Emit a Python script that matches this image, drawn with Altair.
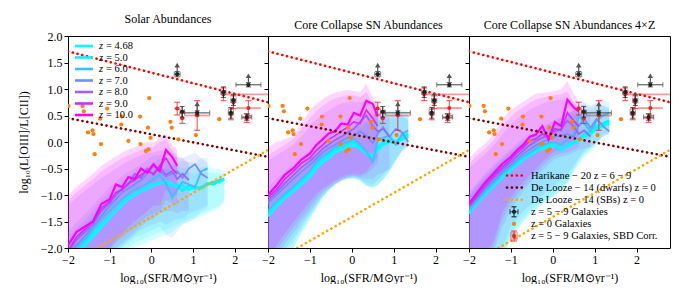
import altair as alt
import pandas as pd

FONT = "Liberation Serif"

# ---------------- data ----------------
X_GRID = [-2.0, -1.8, -1.6, -1.4, -1.2, -1.0, -0.85, -0.7, -0.55, -0.4, -0.25, -0.1,
          0.05, 0.2, 0.35, 0.5, 0.62, 0.75, 0.9, 1.05, 1.2, 1.35, 1.5, 1.62, 1.75]

Z_LABELS = ["4.68", "5.0", "6.0", "7.0", "8.0", "9.0", "10.0"]
Z_COLORS = ["#00ffff", "#10efff", "#40bfff", "#6f90ff", "#9f60ff", "#cf30ff", "#ff00ff"]
Z_WIDTHS = [2.6, 2.6, 2.0, 1.7, 1.7, 1.7, 2.2]

PANEL_TITLES = ["Solar Abundances", "Core Collapse SN Abundances", "Core Collapse SN Abundances 4\u00d7Z"]

# Solar abundances: medians and shaded ranges
solar_med = {
    "10.0": [-1.95, -1.70, -1.60, -1.50, -1.17, -1.08, -0.80, -0.85, -0.66, -0.70, -0.50, -0.58, -0.42, -0.55, -0.15, -0.28, -0.45],
    "9.0": [-2.05, -1.80, -1.65, -1.50, -1.25, -1.12, -0.95, -0.90, -0.78, -0.72, -0.62, -0.55, -0.60, -0.45, -0.30, -0.50, -0.60],
    "8.0": [-2.10, -1.85, -1.70, -1.55, -1.30, -1.15, -1.00, -0.88, -0.80, -0.60, -0.68, -0.50, -0.62, -0.48, -0.62, -0.55, -0.70, -0.60, -0.72],
    "7.0": [-2.15, -1.95, -1.78, -1.60, -1.40, -1.20, -1.08, -0.95, -0.88, -0.80, -0.72, -0.60, -0.45, -0.55, -0.65, -0.60, -0.55, -0.68, -0.50, -0.42, -0.60, -0.68],
    "6.0": [-2.20, -2.00, -1.85, -1.65, -1.45, -1.30, -1.18, -1.08, -0.98, -0.90, -0.85, -0.78, -0.70, -0.62, -0.78, -1.05, -0.90, -0.75, -0.80, -0.85, -0.55, -0.50],
    "5.0": [-2.30, -2.10, -1.90, -1.72, -1.55, -1.40, -1.28, -1.15, -1.05, -0.98, -0.92, -0.85, -0.80, -0.75, -0.78, -0.82, -0.80, -0.92, -0.82, -0.88, -0.85, -0.78, -0.80, -0.72, -0.70],
    "4.68": [-2.40, -2.15, -1.95, -1.78, -1.60, -1.43, -1.30, -1.18, -1.08, -1.00, -0.93, -0.88, -0.82, -0.78, -0.74, -0.80, -0.85, -0.82, -0.90, -0.85, -0.88, -0.80, -0.75, -0.76, -0.70],
}
solar_hi = {
    "10.0": [-1.0, -0.85, -0.72, -0.6, -0.45, -0.35, -0.27, -0.2, -0.14, -0.1, -0.05, 0.0, -0.02, 0.08, 0.15, -0.05, -0.15],
    "9.0": [-1.1, -0.95, -0.82, -0.7, -0.55, -0.45, -0.38, -0.3, -0.25, -0.2, -0.15, -0.1, -0.1, 0.0, 0.05, -0.15, -0.25],
    "8.0": [-1.2, -1.05, -0.92, -0.8, -0.68, -0.58, -0.5, -0.42, -0.36, -0.3, -0.25, -0.2, -0.2, -0.15, -0.2, -0.2, -0.3, -0.3, -0.4],
    "7.0": [-1.7, -1.52, -1.36, -1.2, -1.02, -0.86, -0.74, -0.64, -0.56, -0.5, -0.42, -0.34, -0.25, -0.25, -0.3, -0.3, -0.28, -0.3, -0.25, -0.2, -0.3, -0.4],
    "6.0": [-1.8, -1.62, -1.48, -1.3, -1.1, -0.96, -0.84, -0.74, -0.65, -0.58, -0.52, -0.46, -0.4, -0.3, -0.35, -0.45, -0.4, -0.35, -0.38, -0.4, -0.3, -0.3],
    "5.0": [-1.95, -1.75, -1.55, -1.37, -1.2, -1.05, -0.93, -0.82, -0.72, -0.66, -0.6, -0.54, -0.5, -0.47, -0.42, -0.45, -0.45, -0.5, -0.45, -0.5, -0.48, -0.45, -0.5, -0.5, -0.55],
    "4.68": [-2.05, -1.8, -1.6, -1.43, -1.25, -1.08, -0.96, -0.85, -0.76, -0.7, -0.64, -0.6, -0.56, -0.52, -0.5, -0.52, -0.55, -0.55, -0.58, -0.6, -0.6, -0.58, -0.58, -0.6, -0.62],
}
solar_lo = {
    "10.0": [-3.0, -2.8, -2.6, -2.4, -2.2, -2.0, -1.85, -1.75, -1.6, -1.5, -1.4, -1.3, -1.2, -1.2, -0.9, -1.0, -1.0],
    "9.0": [-3.0, -2.8, -2.6, -2.45, -2.25, -2.05, -1.9, -1.8, -1.7, -1.6, -1.5, -1.4, -1.35, -1.3, -1.1, -1.15, -1.2],
    "8.0": [-3.1, -2.9, -2.7, -2.5, -2.3, -2.1, -2.0, -1.9, -1.8, -1.7, -1.6, -1.5, -1.45, -1.35, -1.3, -1.3, -1.35, -1.3, -1.3],
    "7.0": [-3.1, -2.9, -2.75, -2.55, -2.35, -2.2, -2.05, -1.95, -1.85, -1.75, -1.65, -1.6, -1.55, -1.5, -1.55, -1.5, -1.45, -1.45, -1.35, -1.3, -1.25, -1.2],
    "6.0": [-3.2, -3.0, -2.8, -2.6, -2.4, -2.25, -2.1, -2.0, -1.9, -1.8, -1.75, -1.7, -1.65, -1.6, -1.75, -1.8, -1.7, -1.55, -1.5, -1.45, -1.3, -1.25],
    "5.0": [-3.3, -3.1, -2.9, -2.7, -2.5, -2.35, -2.2, -2.1, -2.0, -1.9, -1.85, -1.8, -1.75, -1.7, -1.65, -1.6, -1.55, -1.5, -1.45, -1.4, -1.35, -1.3, -1.25, -1.2, -1.1],
    "4.68": [-3.4, -3.2, -3.0, -2.8, -2.6, -2.45, -2.3, -2.2, -2.1, -2.0, -1.95, -1.9, -1.85, -1.8, -1.75, -1.7, -1.62, -1.55, -1.5, -1.45, -1.4, -1.35, -1.3, -1.25, -1.15],
}

# Core collapse SN abundances
cc_med = {
    "10.0": [-1.0, -0.82, -0.62, -0.5, -0.33, -0.22, -0.06, 0.05, 0.16, 0.2, 0.35, 0.33, 0.55, 0.5, 0.78, 0.72, 0.48],
    "9.0": [-1.05, -0.9, -0.7, -0.56, -0.4, -0.3, -0.16, -0.06, 0.05, 0.12, 0.2, 0.28, 0.38, 0.35, 0.6, 0.45, 0.3],
    "8.0": [-1.1, -0.95, -0.78, -0.63, -0.48, -0.36, -0.25, -0.13, -0.05, 0.04, 0.1, 0.18, 0.25, 0.38, 0.5, 0.3, 0.2, 0.25, 0.1],
    "7.0": [-1.15, -1.0, -0.85, -0.7, -0.56, -0.43, -0.32, -0.2, -0.12, -0.05, 0.02, 0.08, 0.12, 0.2, 0.12, -0.02, 0.15, 0.28, 0.1, 0.25, 0.18, 0.0],
    "6.0": [-1.3, -1.13, -0.98, -0.85, -0.7, -0.55, -0.38, -0.27, -0.2, -0.1, -0.05, 0.0, 0.06, -0.05, -0.18, -0.38, 0.03, 0.08, 0.12, -0.05, 0.15, 0.22],
    "5.0": [-1.35, -1.18, -1.02, -0.9, -0.76, -0.6, -0.45, -0.33, -0.25, -0.15, -0.1, -0.05, 0.0, -0.1, -0.2, -0.3, -0.1, 0.0, 0.05, 0.0, 0.1, 0.15],
    "4.68": [-1.4, -1.22, -1.06, -0.93, -0.8, -0.65, -0.5, -0.38, -0.3, -0.2, -0.14, -0.1, -0.06, -0.12, -0.22, -0.25, -0.15, -0.05, 0.0, -0.02, 0.05, 0.1],
}
cc_hi = {
    "10.0": [-0.1, 0.0, 0.05, 0.12, 0.35, 0.6, 0.72, 0.8, 0.88, 0.93, 0.96, 0.98, 0.96, 0.94, 1.1, 0.85, 0.7],
    "9.0": [-0.25, -0.15, -0.05, 0.05, 0.25, 0.45, 0.58, 0.68, 0.76, 0.82, 0.86, 0.88, 0.88, 0.85, 0.95, 0.7, 0.6],
    "8.0": [-0.35, -0.25, -0.15, -0.05, 0.1, 0.3, 0.42, 0.52, 0.6, 0.67, 0.72, 0.75, 0.76, 0.75, 0.78, 0.65, 0.55, 0.5, 0.45],
    "7.0": [-0.85, -0.7, -0.55, -0.42, -0.28, -0.15, -0.04, 0.08, 0.16, 0.24, 0.3, 0.36, 0.42, 0.5, 0.55, 0.55, 0.55, 0.6, 0.5, 0.55, 0.5, 0.4],
    "6.0": [-1.0, -0.85, -0.7, -0.58, -0.44, -0.3, -0.15, -0.04, 0.04, 0.12, 0.18, 0.24, 0.3, 0.36, 0.45, 0.5, 0.55, 0.58, 0.6, 0.58, 0.6, 0.55],
    "5.0": [-1.08, -0.92, -0.77, -0.64, -0.5, -0.36, -0.22, -0.1, -0.02, 0.06, 0.12, 0.18, 0.24, 0.3, 0.38, 0.42, 0.45, 0.48, 0.5, 0.5, 0.52, 0.5],
    "4.68": [-1.12, -0.96, -0.81, -0.68, -0.55, -0.41, -0.27, -0.15, -0.07, 0.01, 0.07, 0.13, 0.19, 0.25, 0.33, 0.38, 0.4, 0.42, 0.45, 0.45, 0.48, 0.45],
}
cc_lo = {
    "10.0": [-2.2, -1.95, -1.72, -1.52, -1.32, -1.12, -0.98, -0.88, -0.8, -0.72, -0.66, -0.62, -0.6, -0.62, -0.55, -0.4, -0.3],
    "9.0": [-2.3, -2.05, -1.82, -1.62, -1.42, -1.22, -1.06, -0.94, -0.84, -0.76, -0.7, -0.65, -0.63, -0.65, -0.6, -0.5, -0.4],
    "8.0": [-2.4, -2.15, -1.92, -1.72, -1.5, -1.3, -1.14, -0.98, -0.88, -0.79, -0.72, -0.67, -0.65, -0.68, -0.7, -0.7, -0.62, -0.58, -0.5],
    "7.0": [-2.5, -2.25, -2.02, -1.82, -1.58, -1.36, -1.18, -1.02, -0.9, -0.8, -0.73, -0.69, -0.67, -0.7, -0.78, -0.8, -0.72, -0.62, -0.5, -0.32, -0.18, -0.1],
    "6.0": [-2.55, -2.3, -2.08, -1.9, -1.64, -1.4, -1.22, -1.04, -0.9, -0.8, -0.72, -0.68, -0.68, -0.72, -0.82, -0.85, -0.8, -0.7, -0.55, -0.35, -0.15, -0.05],
    "5.0": [-2.6, -2.35, -2.15, -2.0, -1.7, -1.45, -1.25, -1.05, -0.9, -0.8, -0.72, -0.68, -0.68, -0.72, -0.82, -0.85, -0.8, -0.7, -0.55, -0.35, -0.15, -0.05],
    "4.68": [-2.62, -2.37, -2.17, -2.02, -1.72, -1.47, -1.27, -1.07, -0.92, -0.82, -0.74, -0.7, -0.7, -0.74, -0.84, -0.87, -0.82, -0.72, -0.57, -0.37, -0.17, -0.07],
}

# Core collapse SN abundances, 4x metallicity
cc4_med = {
    "10.0": [-1.16, -0.95, -0.75, -0.58, -0.41, -0.28, -0.15, -0.05, 0.1, 0.14, 0.3, 0.05, 0.38, 0.3, 0.8, 0.65, 0.58],
    "9.0": [-1.2, -1.0, -0.8, -0.63, -0.47, -0.33, -0.2, -0.1, 0.02, 0.06, 0.15, 0.1, 0.25, 0.22, 0.55, 0.4, 0.3],
    "8.0": [-1.22, -1.03, -0.84, -0.67, -0.51, -0.38, -0.26, -0.16, -0.06, 0.02, 0.08, 0.12, 0.2, 0.25, 0.4, 0.3, 0.15, 0.22, 0.1],
    "7.0": [-1.25, -1.06, -0.88, -0.72, -0.56, -0.43, -0.32, -0.22, -0.14, -0.06, 0.0, 0.05, 0.1, 0.12, 0.15, 0.1, 0.3, 0.44, 0.27, 0.44, 0.3, 0.2],
    "6.0": [-1.3, -1.1, -0.92, -0.76, -0.6, -0.47, -0.36, -0.27, -0.2, -0.12, -0.06, -0.02, 0.0, -0.05, 0.05, 0.15, 0.5, 0.35, 0.2, 0.4, 0.5, 0.55],
    "5.0": [-1.32, -1.12, -0.95, -0.79, -0.63, -0.5, -0.4, -0.3, -0.22, -0.15, -0.1, -0.06, -0.05, -0.15, -0.05, 0.0, 0.05, 0.15, 0.2, 0.3, 0.35, 0.4],
    "4.68": [-1.35, -1.15, -0.98, -0.82, -0.66, -0.53, -0.43, -0.33, -0.25, -0.18, -0.13, -0.1, -0.08, -0.12, -0.08, -0.02, 0.02, 0.1, 0.15, 0.25, 0.3, 0.35],
}
cc4_hi = {
    "10.0": [-0.3, -0.15, -0.02, 0.15, 0.44, 0.6, 0.69, 0.76, 0.84, 0.91, 0.93, 0.94, 0.96, 1.0, 1.15, 0.9, 0.75],
    "9.0": [-0.4, -0.25, -0.12, 0.05, 0.3, 0.48, 0.58, 0.66, 0.74, 0.8, 0.84, 0.86, 0.88, 0.9, 0.95, 0.75, 0.65],
    "8.0": [-0.5, -0.35, -0.22, -0.05, 0.15, 0.33, 0.44, 0.53, 0.61, 0.67, 0.72, 0.76, 0.78, 0.8, 0.8, 0.7, 0.62, 0.58, 0.55],
    "7.0": [-0.95, -0.76, -0.58, -0.42, -0.26, -0.13, -0.02, 0.08, 0.16, 0.24, 0.3, 0.36, 0.42, 0.48, 0.55, 0.6, 0.7, 0.72, 0.65, 0.72, 0.7, 0.62],
    "6.0": [-1.0, -0.8, -0.62, -0.46, -0.3, -0.17, -0.06, 0.04, 0.12, 0.2, 0.26, 0.32, 0.38, 0.45, 0.52, 0.6, 0.72, 0.75, 0.7, 0.75, 0.78, 0.75],
    "5.0": [-1.02, -0.82, -0.65, -0.49, -0.33, -0.2, -0.1, 0.0, 0.08, 0.16, 0.22, 0.28, 0.34, 0.4, 0.47, 0.55, 0.6, 0.62, 0.6, 0.65, 0.68, 0.65],
    "4.68": [-1.05, -0.85, -0.68, -0.52, -0.36, -0.23, -0.13, -0.03, 0.05, 0.13, 0.19, 0.25, 0.31, 0.37, 0.44, 0.5, 0.55, 0.58, 0.56, 0.6, 0.62, 0.6],
}
cc4_lo = {
    "10.0": [-2.6, -2.35, -2.1, -1.85, -1.32, -1.05, -0.88, -0.75, -0.62, -0.5, -0.38, -0.26, -0.18, -0.15, -0.1, -0.05, 0.0],
    "9.0": [-2.7, -2.45, -2.2, -1.95, -1.45, -1.15, -0.98, -0.84, -0.7, -0.58, -0.46, -0.34, -0.25, -0.22, -0.2, -0.15, -0.1],
    "8.0": [-2.8, -2.55, -2.3, -2.05, -1.6, -1.28, -1.08, -0.92, -0.78, -0.65, -0.54, -0.42, -0.32, -0.28, -0.25, -0.2, -0.15, -0.12, -0.08],
    "7.0": [-3.0, -2.8, -2.55, -2.3, -2.0, -1.6, -1.45, -1.3, -1.2, -1.1, -1.0, -0.9, -0.8, -0.72, -0.6, -0.45, -0.3, -0.15, -0.1, 0.0, 0.1, 0.15],
    "6.0": [-3.0, -2.85, -2.6, -2.35, -2.1, -1.75, -1.57, -1.42, -1.3, -1.2, -1.12, -1.05, -0.95, -0.85, -0.75, -0.5, -0.35, -0.2, -0.12, 0.0, 0.15, 0.2],
    "5.0": [-3.1, -2.9, -2.65, -2.4, -2.15, -1.8, -1.62, -1.48, -1.36, -1.25, -1.15, -1.08, -1.0, -0.9, -0.78, -0.55, -0.4, -0.25, -0.15, -0.02, 0.12, 0.18],
    "4.68": [-3.1, -2.9, -2.7, -2.45, -2.2, -1.85, -1.66, -1.5, -1.38, -1.28, -1.18, -1.1, -1.02, -0.92, -0.8, -0.58, -0.42, -0.28, -0.18, -0.05, 0.1, 0.15],
}

# reference relations (end points)
REF_NAMES = ["Harikane", "DeLoozeDwarfs", "DeLoozeSBs"]
REF_COLORS = ["#ff0000", "#800000", "#ffa500"]
REF_X = {"Harikane": [-2.0, 2.8], "DeLoozeDwarfs": [-2.0, 2.8], "DeLoozeSBs": [-1.3, 2.8]}
REF_Y = {"Harikane": [1.71, 0.75], "DeLoozeDwarfs": [0.45, -0.28], "DeLoozeSBs": [-2.0, -0.15]}

# z = 5-9 galaxies
GAL_X = [0.62, 2.33, 1.73, 1.97, 1.91, 2.29, 0.74, 1.10]
GAL_Y = [1.28, 1.08, 0.94, 0.79, 0.55, 0.47, 0.57, 0.55]
GAL_XERR = [0.07, 0.30, 0.06, 0.06, 0.06, 0.12, 0.05, 0.30]
GAL_YERR = [0.05, 0.04, 0.10, 0.10, 0.10, 0.06, 0.10, 0.04]
GAL_LIM = [1, 1, 0, 0, 0, 0, 0, 1]

# SBD corrected
SBD_X = [0.62, 0.74, 1.10, 1.73, 1.97, 1.91, 2.33, 2.29]
SBD_Y = [0.63, 0.45, 0.50, 0.90, 0.75, 0.52, 0.64, 0.45]
SBD_XERR_LO = [0.07, 0.05, 0.30, 0.06, 0.06, 0.06, 0.30, 0.12]
SBD_XERR_HI = [0.07, 0.05, 0.30, 1.60, 0.06, 0.06, 0.30, 0.12]
SBD_YERR = [0.12, 0.10, 0.28, 0.12, 0.12, 0.10, 0.14, 0.08]

# z = 0 galaxies
Z0_X = [-1.99, -1.65, -1.62, -1.06, -1.23, -1.52, -1.41, -1.39, -1.21, -1.36, -0.72, -0.27, -0.05,
        -0.08, -0.55, -0.26, -0.07, -0.02, 0.46, 0.49, 0.65, 1.07, 1.63, -0.13, -0.71]
Z0_Y = [0.68, 0.68, 0.58, 0.63, 0.44, 0.18, 0.22, 0.15, -0.04, -0.23, 0.33, 0.48, 0.83,
        0.27, 0.02, -0.04, -0.14, 0.08, 0.38, 0.27, 0.05, 0.13, 0.43, -0.17, 0.48]

REF_LEGEND = ["Harikane \u2212 20 z = 6 \u2212 9", "De Looze \u2212 14 (dwarfs) z = 0", "De Looze \u2212 14 (SBs) z = 0"]
OBS_LEGEND = ["z = 5 \u2212 9 Galaxies", "z = 0 Galaxies", "z = 5 \u2212 9 Galaxies, SBD Corr."]

X_TICKS = [-2, -1, 0, 1, 2]
Y_TICKS = [-2.0, -1.5, -1.0, -0.5, 0.0, 0.5, 1.0, 1.5, 2.0]
X_TITLE = "log\u2081\u2080(SFR/M\u2299yr\u207b\u00b9)"
Y_TITLE = "log\u2081\u2080(L[OIII]/L[CII])"

# ---------------- tables ----------------
def panel_df(med, lo, hi):
    rows = []
    for z in Z_LABELS:
        for i, v in enumerate(med[z]):
            rows.append({"z": z, "x": X_GRID[i], "med": v, "lo": lo[z][i], "hi": hi[z][i]})
    return pd.DataFrame(rows)

ref_rows = []
for n in REF_NAMES:
    for xv, yv in zip(REF_X[n], REF_Y[n]):
        ref_rows.append({"name": n, "x": xv, "y": yv})
ref_df = pd.DataFrame(ref_rows)

gal_df = pd.DataFrame({"x": GAL_X, "y": GAL_Y, "xerr": GAL_XERR, "yerr": GAL_YERR, "lim": GAL_LIM})
sbd_df = pd.DataFrame({"x": SBD_X, "y": SBD_Y, "xl": SBD_XERR_LO, "xh": SBD_XERR_HI, "yerr": SBD_YERR})
z0_df = pd.DataFrame({"x": Z0_X, "y": Z0_Y})
ONE = pd.DataFrame({"k": [0]})

XS = alt.Scale(domain=[-2.0, 2.8], nice=False, zero=False)
YS = alt.Scale(domain=[-2.0, 2.0], nice=False, zero=False)
X_AXIS = alt.Axis(values=X_TICKS, format="d", labelFlush=False, title=X_TITLE,
                  tickSize=4, labelPadding=2, titlePadding=7)
Y_AXIS_FIRST = alt.Axis(values=Y_TICKS, format=".1f", title=Y_TITLE,
                        tickSize=4, labelPadding=2, titlePadding=10)
Y_AXIS_OTHER = alt.Axis(values=Y_TICKS, labels=False, title=None, tickSize=4)

DOT = dict(strokeDash=[0.1, 4.8], strokeCap="round", strokeWidth=2.6)
BAND_OPACITY = 0.16


def make_panel(title, med, lo, hi, first, legend_kind, width):
    yaxis = Y_AXIS_FIRST if first else Y_AXIS_OTHER

    def X(f):
        return alt.X(f, type="quantitative", scale=XS, axis=X_AXIS)

    def Y(f):
        return alt.Y(f, type="quantitative", scale=YS, axis=yaxis)

    df = panel_df(med, lo, hi)
    base = alt.Chart(df)
    layers = []
    for z, col in zip(Z_LABELS, Z_COLORS):
        layers.append(base.transform_filter(alt.datum.z == z)
                      .mark_area(color=col, opacity=BAND_OPACITY, clip=True)
                      .encode(x=X("x"), y=Y("lo"), y2="hi"))
    for z, col, w in zip(Z_LABELS, Z_COLORS, Z_WIDTHS):
        layers.append(base.transform_filter(alt.datum.z == z)
                      .mark_line(color=col, strokeWidth=w, clip=True)
                      .encode(x=X("x"), y=Y("med")))
    for n, col in zip(REF_NAMES, REF_COLORS):
        layers.append(alt.Chart(ref_df).transform_filter(alt.datum.name == n)
                      .mark_line(color=col, clip=True, **DOT)
                      .encode(x=X("x"), y=Y("y")))
    # z=0 galaxies
    layers.append(alt.Chart(z0_df).mark_circle(color="#ff7f0e", size=18, opacity=1, clip=True)
                  .encode(x=X("x"), y=Y("y")))
    # SBD corrected (red)
    sb = alt.Chart(sbd_df).transform_calculate(
        x_lo="datum.x - datum.xl", x_hi="datum.x + datum.xh",
        y_lo="datum.y - datum.yerr", y_hi="datum.y + datum.yerr")
    red = "#ee2222"
    layers.append(sb.mark_rule(color=red, opacity=0.45, strokeWidth=1.8, clip=True)
                  .encode(x=X("x_lo"), x2="x_hi", y=Y("y")))
    layers.append(sb.mark_rule(color=red, opacity=0.7, strokeWidth=1.2, clip=True)
                  .encode(x=X("x"), y=Y("y_lo"), y2="y_hi"))
    for f in ["y_lo", "y_hi"]:
        layers.append(sb.mark_tick(color=red, orient="horizontal", size=6, thickness=1.2, opacity=0.7, clip=True)
                      .encode(x=X("x"), y=Y(f)))
    layers.append(sb.mark_circle(color=red, size=16, opacity=1, clip=True)
                  .encode(x=X("x"), y=Y("y")))
    # z = 5-9 galaxies (black)
    gb = alt.Chart(gal_df).transform_calculate(
        x_lo="datum.x - datum.xerr", x_hi="datum.x + datum.xerr",
        y_lo="datum.y - datum.yerr", y_hi="datum.y + datum.yerr",
        a_lo="datum.y + 0.03", a_hi="datum.y + 0.15", a_tip="datum.y + 0.17")
    blk = "#222222"
    layers.append(gb.mark_rule(color="#555555", strokeWidth=1.1, clip=True)
                  .encode(x=X("x_lo"), x2="x_hi", y=Y("y")))
    layers.append(gb.mark_rule(color=blk, strokeWidth=1.1, clip=True)
                  .encode(x=X("x"), y=Y("y_lo"), y2="y_hi"))
    for f in ["x_lo", "x_hi"]:
        layers.append(gb.mark_tick(color="#555555", orient="vertical", size=5, thickness=1.1, clip=True)
                      .encode(x=X(f), y=Y("y")))
    for f in ["y_lo", "y_hi"]:
        layers.append(gb.mark_tick(color=blk, orient="horizontal", size=5, thickness=1.1, clip=True)
                      .encode(x=X("x"), y=Y(f)))
    layers.append(gb.mark_circle(color=blk, size=18, opacity=1, clip=True)
                  .encode(x=X("x"), y=Y("y")))
    lim = gb.transform_filter(alt.datum.lim == 1)
    layers.append(lim.mark_rule(color="#555555", strokeWidth=1.2, clip=True)
                  .encode(x=X("x"), y=Y("a_lo"), y2="a_hi"))
    layers.append(lim.mark_point(shape="triangle-up", filled=True, color="#555555", size=30, opacity=1, clip=True)
                  .encode(x=X("x"), y=Y("a_tip")))

    one = alt.Chart(ONE)
    txt = dict(align="left", baseline="middle", font=FONT, fontSize=10.5, color="black")
    if legend_kind == "z":
        for i, (lab, col) in enumerate(zip(Z_LABELS, Z_COLORS)):
            yy = 10 + 11.5 * i
            layers.append(one.mark_rule(color=col, strokeWidth=2.6)
                          .encode(x=alt.value(7), x2=alt.value(25), y=alt.value(yy)))
            layers.append(one.mark_text(fontStyle="italic", **txt)
                          .encode(x=alt.value(31), y=alt.value(yy), text=alt.value("z")))
            layers.append(one.mark_text(**txt)
                          .encode(x=alt.value(38), y=alt.value(yy), text=alt.value("= " + lab)))
    elif legend_kind == "obs":
        y0, dy = 139.5, 12.1
        for i, (lab, col) in enumerate(zip(REF_LEGEND, REF_COLORS)):
            yy = y0 + dy * i
            layers.append(one.mark_rule(color=col, **DOT)
                          .encode(x=alt.value(38), x2=alt.value(53), y=alt.value(yy)))
            layers.append(one.mark_text(**txt)
                          .encode(x=alt.value(62), y=alt.value(yy), text=alt.value(lab)))
        # black errorbar symbol
        yy = y0 + dy * 3
        layers.append(one.mark_rule(color="#444444", strokeWidth=1.1)
                      .encode(x=alt.value(41), x2=alt.value(49), y=alt.value(yy)))
        layers.append(one.mark_rule(color=blk, strokeWidth=1.1)
                      .encode(x=alt.value(45), y=alt.value(yy - 5), y2=alt.value(yy + 5)))
        for dyc in (-5, 5):
            layers.append(one.mark_rule(color=blk, strokeWidth=1.1)
                          .encode(x=alt.value(42.5), x2=alt.value(47.5), y=alt.value(yy + dyc)))
        for dxc in (41, 49):
            layers.append(one.mark_rule(color="#444444", strokeWidth=1.1)
                          .encode(x=alt.value(dxc), y=alt.value(yy - 2.5), y2=alt.value(yy + 2.5)))
        layers.append(one.mark_circle(color=blk, size=18, opacity=1)
                      .encode(x=alt.value(45), y=alt.value(yy)))
        layers.append(one.mark_text(**txt)
                      .encode(x=alt.value(62), y=alt.value(yy), text=alt.value(OBS_LEGEND[0])))
        # orange dot
        yy = y0 + dy * 4
        layers.append(one.mark_circle(color="#ff7f0e", size=18, opacity=1)
                      .encode(x=alt.value(45), y=alt.value(yy)))
        layers.append(one.mark_text(**txt)
                      .encode(x=alt.value(62), y=alt.value(yy), text=alt.value(OBS_LEGEND[1])))
        # red symbol
        yy = y0 + dy * 5
        layers.append(one.mark_rule(color=red, opacity=0.35, strokeWidth=8)
                      .encode(x=alt.value(41), x2=alt.value(49), y=alt.value(yy)))
        layers.append(one.mark_rule(color=red, opacity=0.8, strokeWidth=1.1)
                      .encode(x=alt.value(45), y=alt.value(yy - 5), y2=alt.value(yy + 5)))
        for dyc in (-5, 5):
            layers.append(one.mark_rule(color=red, opacity=0.8, strokeWidth=1.1)
                          .encode(x=alt.value(42), x2=alt.value(48), y=alt.value(yy + dyc)))
        layers.append(one.mark_circle(color=red, size=16, opacity=1)
                      .encode(x=alt.value(45), y=alt.value(yy)))
        layers.append(one.mark_text(**txt)
                      .encode(x=alt.value(62), y=alt.value(yy), text=alt.value(OBS_LEGEND[2])))

    return alt.layer(*layers).properties(width=width, height=212, title=title)


p1 = make_panel(PANEL_TITLES[0], solar_med, solar_lo, solar_hi, True, "z", 200)
p2 = make_panel(PANEL_TITLES[1], cc_med, cc_lo, cc_hi, False, "none", 201)
p3 = make_panel(PANEL_TITLES[2], cc4_med, cc4_lo, cc4_hi, False, "obs", 201)

chart = (
    alt.hconcat(p1, p2, p3, spacing=0, bounds="flush")
    .properties(padding={"left": 8, "top": 4, "right": 0, "bottom": 0})
    .configure_view(stroke="black", strokeWidth=1)
    .configure_axis(labelFont=FONT, titleFont=FONT, labelFontSize=12, titleFontSize=12,
                    titleFontWeight="normal", labelColor="black", titleColor="black",
                    tickColor="black", domain=False, grid=False)
    .configure_title(font=FONT, fontSize=12, fontWeight="normal", color="black", offset=0)
)

chart.save("out.html", embed_options={"renderer": "svg", "actions": False})
